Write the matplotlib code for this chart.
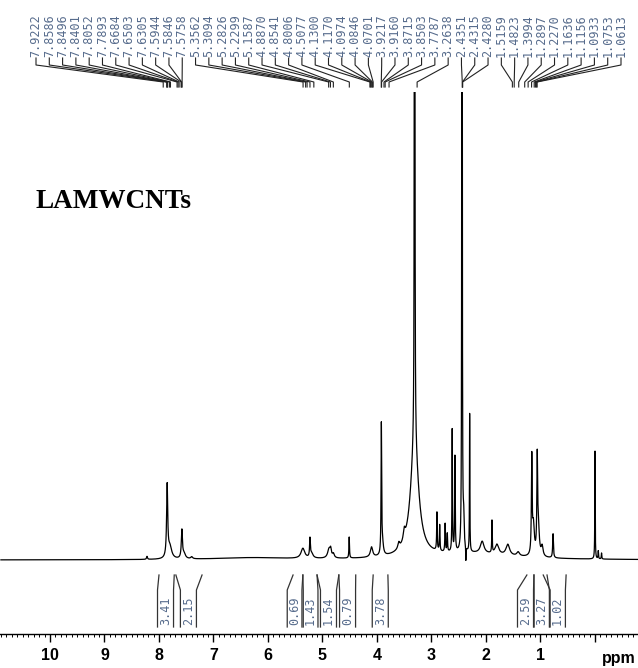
import numpy as np
import matplotlib
matplotlib.use("Agg")
import matplotlib.pyplot as plt
from matplotlib.ticker import MultipleLocator, FixedLocator

# peak list (ppm, height above baseline, half width ppm)
peak_ppm = [8.22, 7.85, 7.80, 7.58, 7.54, 7.40, 6.30,
            5.36, 5.23, 5.20, 4.88, 4.85, 4.80, 4.51, 4.10,
            3.92, 3.90, 3.60, 3.50, 3.31, 3.31,
            2.90, 2.85, 2.75, 2.71, 2.62, 2.57, 2.44, 2.41, 2.37, 2.30,
            2.07, 1.89, 1.80, 1.60, 1.41,
            1.16, 1.13, 1.06, 1.04, 0.97, 0.77,
            0.00, -0.06, -0.12, 2.30]
peak_height = [3, 72, 12, 28, 5, 2, 2,
               10, 18, 5, 9, 7, 4, 21, 10,
               128, 12, 6, 10, 3000, 110,
               38, 26, 28, 18, 122, 95, 3000, 30, -14, 138,
               12, 32, 10, 11, 4,
               95, 30, 90, 30, 10, 24,
               108, 8, 6, 6]
peak_width = [0.01, 0.012, 0.04, 0.012, 0.03, 0.02, 0.8,
              0.04, 0.008, 0.03, 0.03, 0.015, 0.02, 0.006, 0.025,
              0.006, 0.02, 0.02, 0.02, 0.0028, 0.09,
              0.006, 0.006, 0.006, 0.006, 0.005, 0.006, 0.0025, 0.01, 0.003, 0.004,
              0.04, 0.005, 0.04, 0.04, 0.03,
              0.008, 0.02, 0.008, 0.02, 0.02, 0.008,
              0.004, 0.005, 0.005, 0.9]

# picked peak labels (top)
peak_labels = [7.9222, 7.8586, 7.8496, 7.8401, 7.8052, 7.7893, 7.6684, 7.6503,
               7.6305, 7.5944, 7.5846, 7.5758,
               5.3562, 5.3094, 5.2826, 5.2299, 5.1587, 4.8870, 4.8541, 4.8006,
               4.5077, 4.1300, 4.1170, 4.0974, 4.0846, 4.0701,
               3.9217, 3.9160, 3.8715, 3.8503, 3.7787, 3.2638,
               2.4351, 2.4315, 2.4280,
               1.5159, 1.4823, 1.3994, 1.2897, 1.2270, 1.1636, 1.1156, 1.0933,
               1.0753, 1.0613]

# integrals: value, region start/end (ppm), label centre (ppm)
int_values = ["3.41", "2.15", "0.69", "1.43", "1.54", "0.79", "3.78", "2.59", "3.27", "1.02"]
int_start = [8.00, 7.69, 5.54, 5.36, 5.10, 4.70, 4.07, 1.25, 1.12, 0.88]
int_end = [7.72, 7.21, 5.36, 5.10, 4.70, 4.39, 3.80, 1.12, 0.95, 0.53]
int_center = [7.88, 7.46, 5.50, 5.23, 4.89, 4.54, 3.94, 1.275, 0.97, 0.69]

x_ticks = [10, 9, 8, 7, 6, 5, 4, 3, 2, 1, 0]
x_ticklabels = ["10", "9", "8", "7", "6", "5", "4", "3", "2", "1", ""]

fig = plt.figure(figsize=(6.38, 6.68), dpi=100)
ax = fig.add_axes([0, 34 / 668, 1, 542 / 668])
xl = (10.917, -0.789)
ax.set_xlim(*xl)
ax.set_ylim(-74, 468)

ppm = np.linspace(10.9, -0.78, 30000)
spec = np.zeros_like(ppm)
for p, h, w in zip(peak_ppm, peak_height, peak_width):
    spec += h * w**2 / ((ppm - p)**2 + w**2)
ax.plot(ppm, spec, color="black", lw=0.9)

# integral brackets
lab_col = "#566b8c"
hw = 0.147
for v, s, e, c in zip(int_values, int_start, int_end, int_center):
    ax.plot([s, c + hw, c + hw], [-15, -30, -67], color="#333333", lw=0.9)
    ax.plot([e, c - hw, c - hw], [-15, -30, -67], color="#333333", lw=0.9)
    ax.text(c, -51, v, rotation=90, ha="center", va="center",
            family="DejaVu Sans Mono", fontsize=8.5, color=lab_col)

# peak labels with connectors
lab_x = np.linspace(36 / 638, 621 / 638, len(peak_labels))
for fx, val in zip(lab_x, peak_labels):
    xd = xl[0] + fx * (xl[1] - xl[0])
    ax.plot([xd, xd, val, val], [502, 495, 478, 473], color="#222222",
            lw=0.8, clip_on=False)
    ax.text(xd, 503, f"{val:.4f}", rotation=90, ha="center", va="bottom",
            family="DejaVu Sans Mono", fontsize=8.5, color=lab_col)

for s in ["top", "left", "right"]:
    ax.spines[s].set_visible(False)
ax.spines["bottom"].set_linewidth(1.0)
ax.set_yticks([])
ax.xaxis.set_major_locator(FixedLocator(x_ticks))
ax.set_xticklabels(x_ticklabels, fontfamily="Liberation Sans",
                   fontweight="bold", fontsize=11.5)
ax.xaxis.set_minor_locator(MultipleLocator(0.1))
ax.tick_params(axis="x", which="major", length=6, width=1, pad=4)
ax.tick_params(axis="x", which="minor", length=2.5, width=0.7)

fig.text(619 / 638, 1 - 658 / 668, "ppm", ha="center", va="center",
         family="Liberation Sans", fontweight="bold", fontsize=11.5)
fig.text(36 / 638, 1 - 208 / 668, "LAMWCNTs", ha="left", va="baseline",
         family="Liberation Serif", fontweight="bold", fontsize=19.5)

fig.savefig("out.png", dpi=100)
